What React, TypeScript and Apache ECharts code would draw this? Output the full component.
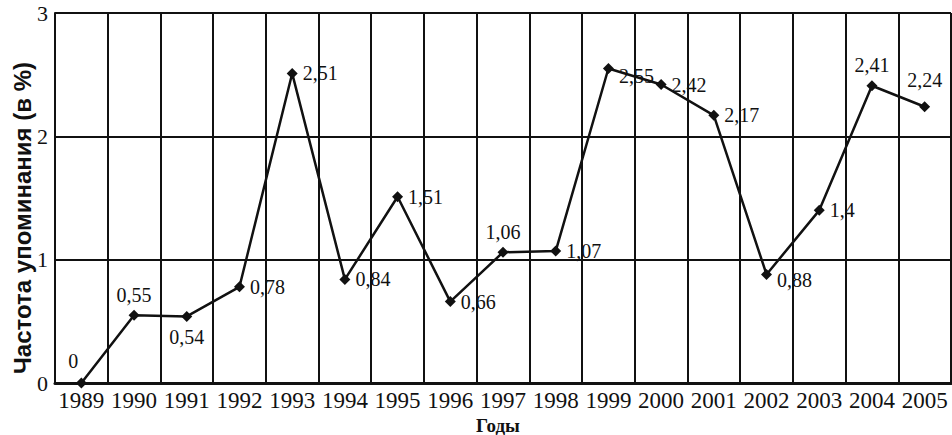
import React, { useEffect, useRef } from "react";
import * as echarts from "echarts";

const years = ["1989","1990","1991","1992","1993","1994","1995","1996","1997","1998","1999","2000","2001","2002","2003","2004","2005"];
const values = [0, 0.55, 0.54, 0.78, 2.51, 0.84, 1.51, 0.66, 1.06, 1.07, 2.55, 2.42, 2.17, 0.88, 1.4, 2.41, 2.24];
const labelPositions = ["top","top","bottom","right","right","right","right","right","top","right","right","right","right","right","right","top","top"];
const yTicks = [0, 1, 2, 3];
const yAxisTitle = "Частота упоминания (в %)";
const xAxisTitle = "Годы";

const FONT = "Liberation Serif";

export default function App() {
  const ref = useRef<HTMLDivElement>(null);
  useEffect(() => {
    document.body.style.margin = "0";
    if (!ref.current) return;
    const chart = echarts.init(ref.current, null, { renderer: "svg" });
    const data = values.map((v, i) => {
      const pos = labelPositions[i];
      const label: any = { position: pos };
      if (i === 0) label.offset = [-8, -2];
      if (i === 10) label.offset = [0, 7];
      if (i === 13) label.offset = [0, 6];
      if (i === 16) label.offset = [0, -6];
      return { value: v, label };
    });
    chart.setOption({
      animation: false,
      backgroundColor: "#fff",
      grid: { left: 55, right: 1, top: 13, bottom: 52, containLabel: false },
      graphic: [
        {
          type: "text",
          x: 22,
          y: 218,
          rotation: Math.PI / 2,
          style: {
            text: yAxisTitle,
            fontFamily: "Liberation Sans",
            fontWeight: "bold",
            fontSize: 24,
            fill: "#111",
            align: "center",
            verticalAlign: "middle",
          },
        },
        {
          type: "text",
          x: 498,
          y: 425,
          style: {
            text: xAxisTitle,
            fontFamily: FONT,
            fontWeight: "bold",
            fontSize: 19,
            fill: "#111",
            align: "center",
            verticalAlign: "middle",
          },
        },
      ],
      xAxis: {
        type: "category",
        data: years,
        boundaryGap: true,
        axisLine: { show: true, lineStyle: { color: "#111", width: 3 } },
        axisTick: { show: false },
        axisLabel: { fontFamily: FONT, fontSize: 23, lineHeight: 24, color: "#111", margin: 5, interval: 0 },
        splitLine: { show: true, interval: 0, lineStyle: { color: "#111", width: 2 } },
      },
      yAxis: {
        type: "value",
        min: yTicks[0],
        max: yTicks[yTicks.length - 1],
        interval: 1,
        axisLine: { show: true, lineStyle: { color: "#111", width: 2 } },
        axisTick: { show: false },
        axisLabel: { fontFamily: FONT, fontSize: 22, color: "#111", margin: 7 },
        splitLine: { show: true, lineStyle: { color: "#111", width: 2 } },
      },
      series: [
        {
          type: "line",
          data,
          symbol: "diamond",
          symbolSize: 11,
          itemStyle: { color: "#111" },
          lineStyle: { color: "#111", width: 2.5 },
          label: {
            show: true,
            fontFamily: FONT,
            fontSize: 20,
            color: "#111",
            distance: 5,
            formatter: (p: any) => String(p.value).replace(".", ","),
          },
        },
      ],
    });
    return () => chart.dispose();
  }, []);
  return <div ref={ref} style={{ width: 952, height: 435 }} />;
}
